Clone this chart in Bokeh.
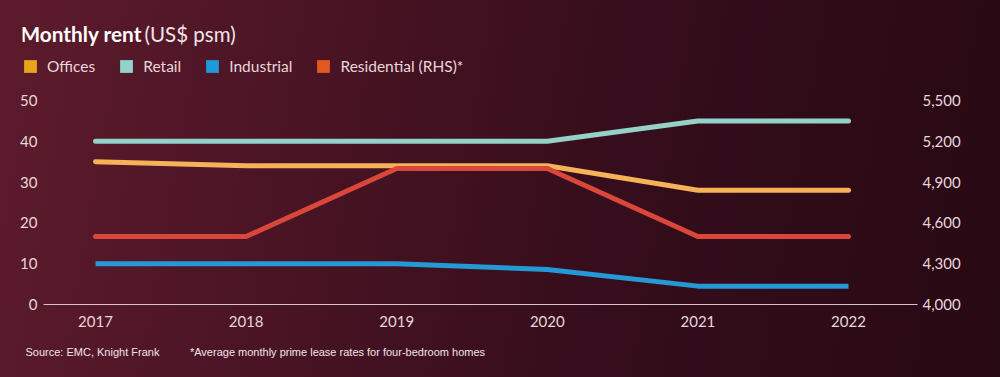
from bokeh.plotting import figure
from bokeh.models import (Range1d, LinearAxis, FixedTicker, NumeralTickFormatter,
                          Label, Legend, LegendItem, Title)
from bokeh.embed import file_html
from bokeh.resources import INLINE

years = [2017, 2018, 2019, 2020, 2021, 2022]
offices = [35, 34, 34, 34, 28, 28]
retail = [40, 40, 40, 40, 45, 45]
industrial = [10, 10, 10, 8.6, 4.5, 4.5]
residential = [4500, 4500, 5000, 5000, 4500, 4500]

left_ticks = [0, 10, 20, 30, 40, 50]
right_ticks = [4000, 4300, 4600, 4900, 5200, 5500]

legend_names = ["Offices", "Retail", "Industrial", "Residential (RHS)*"]
legend_colors = ["#e8a41c", "#92d2ca", "#1f9ad8", "#e2581f"]
line_colors = {"Offices": "#f6b257", "Retail": "#93d1c9", "Industrial": "#2598d6", "Residential": "#d9463a"}

W, H = 1000, 377
FL, FR, FB = 22, 917, 304          # frame edges in pixels (frame top is 0)
PX_PER_YEAR = 150.6
X0 = 2017 - (95 - FL) / PX_PER_YEAR
X1 = 2022 + (FR - 848) / PX_PER_YEAR
Y1 = 50 * FB / 204.0
R1 = 4000 + 1500 * FB / 204.0

FONT = "Lato"
TXT = "#e9d6da"

p = figure(width=W, height=H, output_backend="svg", toolbar_location=None,
           x_range=Range1d(X0, X1), y_range=Range1d(0, Y1),
           min_border_left=FL, min_border_right=W - FR, min_border_top=0,
           min_border_bottom=H - FB)
p.styles = {"position": "absolute", "left": "0px", "top": "0px",
            "background": "linear-gradient(100deg, #5d1b2d 0%, #4a1424 30%, #360d1c 60%, #270913 100%)"}
p.background_fill_alpha = 0
p.border_fill_alpha = 0
p.outline_line_color = None
p.grid.visible = False

p.extra_y_ranges = {"rhs": Range1d(4000, R1)}

def style_axis(ax, standoff):
    ax.axis_line_color = None
    ax.major_tick_line_color = None
    ax.minor_tick_line_color = None
    ax.major_tick_in = 0
    ax.major_tick_out = 0
    ax.minor_tick_in = 0
    ax.minor_tick_out = 0
    ax.major_label_text_color = TXT
    ax.major_label_text_font = FONT
    ax.major_label_text_font_size = "15px"
    ax.major_label_standoff = standoff

xa = p.xaxis[0]
xa.ticker = FixedTicker(ticks=years)
style_axis(xa, 11)
xa.axis_line_color = "#d9c3c8"
xa.axis_line_width = 1
xa.bounds = (2017 - (95 - 43) / PX_PER_YEAR, X1)

ya = p.yaxis[0]
ya.ticker = FixedTicker(ticks=left_ticks)
style_axis(ya, -15)
ya.major_label_text_align = "left"

ra = LinearAxis(y_range_name="rhs", ticker=FixedTicker(ticks=right_ticks),
                formatter=NumeralTickFormatter(format="0,0"))
style_axis(ra, 5)
p.add_layout(ra, "right")

# lines
p.line(years, retail, line_color=line_colors["Retail"], line_width=5, line_cap="round", line_join="round")
p.line(years, offices, line_color=line_colors["Offices"], line_width=5, line_cap="round", line_join="round")
p.line(years, residential, y_range_name="rhs", line_color=line_colors["Residential"], line_width=5,
       line_cap="round", line_join="round")
p.line(years, industrial, line_color=line_colors["Industrial"], line_width=5, line_cap="butt", line_join="round")

# legend with square swatches (one off-range dummy quad each, so the swatch is drawn)
nan = float("nan")
items = []
for name, col in zip(legend_names, legend_colors):
    r = p.quad(left=[nan], right=[nan], top=[nan], bottom=[nan], fill_color=col, line_color=None)
    items.append(LegendItem(label=name, renderers=[r]))
legend = Legend(items=items, orientation="horizontal", location=(0, FB - 75),
                background_fill_alpha=0, border_line_alpha=0, padding=0, margin=0,
                spacing=23, label_standoff=9, glyph_width=16, glyph_height=16,
                label_height=16, label_width=10,
                label_text_color=TXT, label_text_font=FONT, label_text_font_size="15.5px")
p.add_layout(legend, "center")

def dx(px):
    return X0 + (px - FL) / PX_PER_YEAR

def dy(py):
    return (FB - py) * 50 / 204.0

def lab(text, px, py, size, color=TXT, style="normal", font=FONT):
    p.add_layout(Label(x=dx(px), y=dy(py), text=text,
                       text_font=font, text_font_size=size, text_color=color,
                       text_font_style=style, text_baseline="middle", text_align="left"))

lab("Monthly rent", 20, 33, "20.8px", color="#ffffff", style="bold")
lab("(US$ psm)", 144, 33, "20.5px", color="#f1e4e7")

nb = "\u00a0"
foot = Title(text="Source: EMC, Knight Frank" + nb * 10 + "*Average monthly prime lease rates for four-bedroom homes",
             align="left", offset=3, standoff=29, text_font="Liberation Sans", text_font_size="11px",
             text_font_style="normal", text_color="#f1e4e7")
p.add_layout(foot, "below")

open("out.html", "w").write(file_html(p, INLINE))
